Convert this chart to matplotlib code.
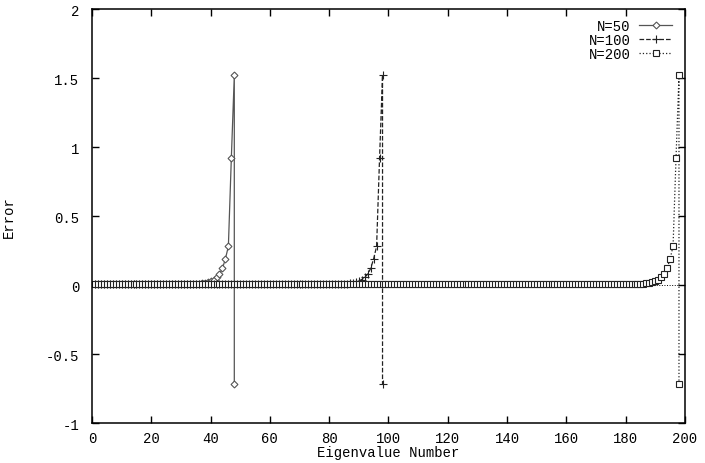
import matplotlib.pyplot as plt

plt.switch_backend("Agg")
plt.rcParams["font.family"] = ["Liberation Mono", "DejaVu Sans Mono"]
plt.rcParams["font.size"] = 10

# tamaños de problema y error de los últimos autovalores
sizes = [50, 100, 200]
labels = ["N=50", "N=100", "N=200"]
base_err = 0.005
tail_err = [0.007, 0.009, 0.012, 0.016, 0.022, 0.03, 0.04, 0.055,
            0.08, 0.12, 0.19, 0.28, 0.92, 1.52, -0.72]
markers = ["D", "+", "s"]
styles = ["-", "--", ":"]
colors = ["#555555", "#222222", "#222222"]
msizes = [3.5, 6, 5]

fig = plt.figure(figsize=(7.05, 4.64), dpi=100)
ax = fig.add_axes([0.1305, 0.0862, 0.841, 0.892])

ax.axhline(0, color="k", lw=0.7, ls=":", zorder=1)

for n, lab, mk, ls, c, ms in zip(sizes, labels, markers, styles, colors, msizes):
    # el último punto cae sobre el mismo índice (salto vertical)
    x = list(range(1, n - 1)) + [n - 2]
    err = [base_err] * (len(x) - len(tail_err)) + tail_err
    ax.plot(x, err, ls=ls, color=c, lw=0.9, marker=mk, ms=ms,
            mfc="white" if mk != "+" else c, mec=c, mew=0.8, label=lab)

ax.set_xlim(0, 200)
ax.set_ylim(-1, 2)
ax.set_xticks(range(0, 201, 20))
ax.set_yticks([-1, -0.5, 0, 0.5, 1, 1.5, 2])
ax.set_yticklabels(["-1", "-0.5", "0", "0.5", "1", "1.5", "2"])
ax.tick_params(direction="in", top=True, right=True, length=5, width=1)
ax.tick_params(axis="y", pad=9)
ax.tick_params(axis="x", pad=6)
for s in ax.spines.values():
    s.set_linewidth(1.1)

ax.set_xlabel("Eigenvalue Number", labelpad=0)
ax.set_ylabel("Error", labelpad=22)

ax.legend(loc="upper right", bbox_to_anchor=(0.995, 1.0), frameon=False,
          markerfirst=False, handlelength=2.4, handletextpad=0.6,
          labelspacing=0.0, borderpad=0.2)
for t in ax.get_legend().get_texts():
    t.set_ha("right")

fig.savefig("out.png", dpi=100)
